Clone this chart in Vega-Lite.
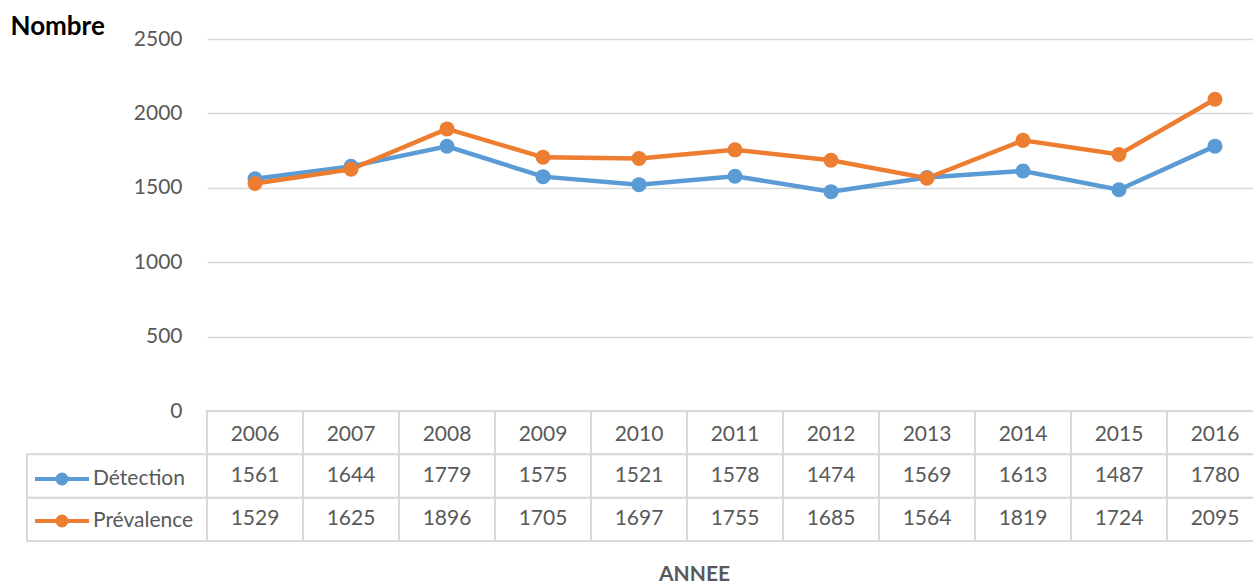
{
  "$schema": "https://vega.github.io/schema/vega-lite/v6.json",
  "width": 1046,
  "height": 502,
  "autosize": {"type": "none"},
  "padding": {"left": 207, "top": 39, "right": 0, "bottom": 44},
  "background": "white",
  "config": {"view": {"stroke": null}, "font": "Lato"},
  "datasets": {
    "rows": [
      {"year": 2006, "series": "Détection", "value": 1561},
      {"year": 2007, "series": "Détection", "value": 1644},
      {"year": 2008, "series": "Détection", "value": 1779},
      {"year": 2009, "series": "Détection", "value": 1575},
      {"year": 2010, "series": "Détection", "value": 1521},
      {"year": 2011, "series": "Détection", "value": 1578},
      {"year": 2012, "series": "Détection", "value": 1474},
      {"year": 2013, "series": "Détection", "value": 1569},
      {"year": 2014, "series": "Détection", "value": 1613},
      {"year": 2015, "series": "Détection", "value": 1487},
      {"year": 2016, "series": "Détection", "value": 1780},
      {"year": 2006, "series": "Prévalence", "value": 1529},
      {"year": 2007, "series": "Prévalence", "value": 1625},
      {"year": 2008, "series": "Prévalence", "value": 1896},
      {"year": 2009, "series": "Prévalence", "value": 1705},
      {"year": 2010, "series": "Prévalence", "value": 1697},
      {"year": 2011, "series": "Prévalence", "value": 1755},
      {"year": 2012, "series": "Prévalence", "value": 1685},
      {"year": 2013, "series": "Prévalence", "value": 1564},
      {"year": 2014, "series": "Prévalence", "value": 1819},
      {"year": 2015, "series": "Prévalence", "value": 1724},
      {"year": 2016, "series": "Prévalence", "value": 2095}
    ]
  },
  "data": {"name": "rows"},
  "layer": [
    {
      "layer": [
        {
          "mark": {"type": "line", "strokeWidth": 4.5},
          "encoding": {
            "x": {"field": "year", "type": "ordinal", "scale": {"type": "point", "range": [0, 1056], "padding": 0.5}, "axis": null},
            "y": {
              "field": "value", "type": "quantitative",
              "scale": {"domain": [0, 2500], "range": [372, 0], "nice": false},
              "axis": {
                "orient": "left",
                "values": [0, 500, 1000, 1500, 2000, 2500],
                "format": "d",
                "title": "Nombre", "titleAngle": 0, "titleAlign": "left", "titleBaseline": "alphabetic",
                "titleX": -197, "titleY": -5, "titleFont": "Lato", "titleFontSize": 26, "titleFontWeight": "bold", "titleColor": "#000000",
                "labelFont": "Lato", "labelFontSize": 21, "labelColor": "#595959", "labelPadding": 25,
                "ticks": false, "domain": false, "grid": true, "gridColor": "#D9D9D9", "gridWidth": 1.5
              }
            },
            "color": {
              "field": "series", "type": "nominal",
              "scale": {"domain": ["Détection", "Prévalence"], "range": ["#5B9BD5", "#ED7D31"]},
              "legend": {
                "orient": "none", "legendX": -162, "legendY": 423, "direction": "vertical", "title": null,
                "symbolType": "M-1.8,0H1.8M0.3,0A0.3,0.3,0,1,1,-0.3,0A0.3,0.3,0,1,1,0.3,0Z",
                "symbolSize": 900, "symbolStrokeWidth": 4,
                "labelFont": "Lato", "labelFontSize": 21, "labelColor": "#595959", "labelOffset": 14,
                "rowPadding": 12, "padding": 0,
                "encode": {"symbols": {"update": {"fill": {"scale": "color", "field": "value"}, "stroke": {"scale": "color", "field": "value"}, "opacity": {"value": 1}}}}
              }
            }
          }
        },
        {
          "mark": {"type": "point", "filled": true, "size": 225, "opacity": 1},
          "encoding": {
            "x": {"field": "year", "type": "ordinal"},
            "y": {"field": "value", "type": "quantitative"},
            "color": {
              "field": "series", "type": "nominal",
              "legend": {
                "orient": "none", "legendX": -162, "legendY": 423, "direction": "vertical", "title": null,
                "symbolType": "M-1.8,0H1.8M0.3,0A0.3,0.3,0,1,1,-0.3,0A0.3,0.3,0,1,1,0.3,0Z",
                "symbolSize": 900, "symbolStrokeWidth": 4,
                "labelFont": "Lato", "labelFontSize": 21, "labelColor": "#595959", "labelOffset": 14,
                "rowPadding": 12, "padding": 0,
                "encode": {"symbols": {"update": {"fill": {"scale": "color", "field": "value"}, "stroke": {"scale": "color", "field": "value"}, "opacity": {"value": 1}}}}
              }
            }
          }
        }
      ]
    },
    {
      "layer": [
        {
          "transform": [{"filter": "datum.series == 'Détection'"}],
          "mark": {"type": "rect", "fill": "transparent", "stroke": "#D9D9D9", "strokeWidth": 2},
          "encoding": {
            "x": {
              "field": "year", "type": "ordinal",
              "scale": {"type": "band", "range": [0, 1056], "paddingInner": 0, "paddingOuter": 0},
              "axis": {
                "orient": "bottom", "title": "ANNEE", "labels": false, "ticks": false, "domain": false, "grid": false,
                "titleX": 487, "titleY": 39, "titleAlign": "center", "titleBaseline": "alphabetic",
                "titleFont": "Lato", "titleFontSize": 21, "titleFontWeight": "bold", "titleColor": "#595959"
              }
            },
            "y": {
              "datum": "header", "type": "nominal",
              "scale": {"type": "band", "domain": ["header", "Détection", "Prévalence"], "range": [372, 502], "paddingInner": 0, "paddingOuter": 0},
              "axis": null
            }
          }
        },
        {
          "mark": {"type": "rect", "fill": "transparent", "stroke": "#D9D9D9", "strokeWidth": 2},
          "encoding": {
            "x": {"field": "year", "type": "ordinal"},
            "y": {"field": "series", "type": "nominal"}
          }
        },
        {
          "transform": [{"filter": "datum.series == 'Détection'"}],
          "mark": {"type": "text", "font": "Lato", "fontSize": 21, "color": "#595959", "align": "center", "baseline": "middle", "dy": 2},
          "encoding": {
            "x": {"field": "year", "type": "ordinal"},
            "y": {"datum": "header", "type": "nominal"},
            "text": {"field": "year", "type": "ordinal"}
          }
        },
        {
          "mark": {"type": "text", "font": "Lato", "fontSize": 21, "color": "#595959", "align": "center", "baseline": "middle"},
          "encoding": {
            "x": {"field": "year", "type": "ordinal"},
            "y": {"field": "series", "type": "nominal"},
            "text": {"field": "value", "type": "quantitative", "format": "d"}
          }
        }
      ]
    },
    {
      "transform": [{"filter": "datum.year == 2006"}],
      "mark": {"type": "rect", "fill": "transparent", "stroke": "#D9D9D9", "strokeWidth": 2},
      "encoding": {
        "x": {
          "datum": "légende", "type": "nominal",
          "scale": {"type": "band", "domain": ["légende"], "range": [-180, 0], "paddingInner": 0, "paddingOuter": 0},
          "axis": null
        },
        "y": {
          "field": "series", "type": "nominal",
          "scale": {"type": "band", "domain": ["header", "Détection", "Prévalence"], "range": [372, 502], "paddingInner": 0, "paddingOuter": 0},
          "axis": null
        }
      }
    }
  ],
  "resolve": {"scale": {"x": "independent", "y": "independent"}}
}
